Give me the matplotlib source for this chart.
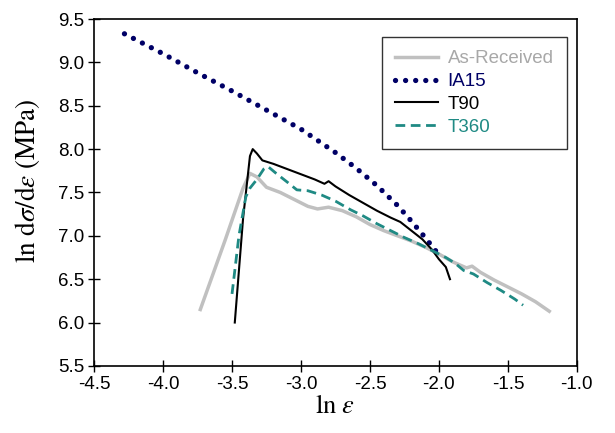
import matplotlib
matplotlib.use("Agg")
import matplotlib.pyplot as plt

plt.rcParams['font.family'] = ['Liberation Sans', 'DejaVu Sans']
plt.rcParams['mathtext.fontset'] = 'stix'

# data
ar_x = [-3.73, -3.55, -3.42, -3.37, -3.32, -3.25, -3.15, -3.05, -2.95, -2.88, -2.80, -2.70, -2.60, -2.50,
        -2.40, -2.30, -2.20, -2.10, -2.00, -1.90, -1.80, -1.76, -1.70, -1.60, -1.50, -1.40, -1.30, -1.20]
ar_y = [6.15, 6.95, 7.55, 7.72, 7.68, 7.56, 7.50, 7.42, 7.34, 7.31, 7.33, 7.29, 7.22, 7.13,
        7.06, 7.00, 6.94, 6.87, 6.79, 6.70, 6.63, 6.65, 6.58, 6.49, 6.41, 6.33, 6.24, 6.13]

ia_x = [-4.28, -4.0, -3.75, -3.5, -3.25, -3.0, -2.75, -2.6, -2.45, -2.3, -2.2, -2.1, -2.02]
ia_y = [9.33, 9.10, 8.88, 8.67, 8.45, 8.23, 7.96, 7.78, 7.58, 7.35, 7.17, 6.98, 6.82]

t90_x = [-3.48, -3.42, -3.37, -3.35, -3.32, -3.28, -3.20, -3.10, -3.00, -2.90, -2.83, -2.80,
         -2.75, -2.65, -2.55, -2.45, -2.35, -2.28, -2.20, -2.12, -2.05, -2.00, -1.95, -1.92]
t90_y = [6.00, 7.20, 7.92, 8.00, 7.95, 7.87, 7.83, 7.77, 7.71, 7.65, 7.60, 7.63,
         7.57, 7.47, 7.38, 7.29, 7.21, 7.16, 7.06, 6.96, 6.84, 6.73, 6.64, 6.50]

t360_x = [-3.50, -3.45, -3.40, -3.37, -3.32, -3.27, -3.24, -3.18, -3.10, -3.03, -2.95, -2.85, -2.75, -2.64,
          -2.55, -2.45, -2.35, -2.25, -2.15, -2.05, -1.95, -1.88, -1.82, -1.75, -1.65, -1.55, -1.45, -1.39]
t360_y = [6.33, 7.00, 7.45, 7.55, 7.65, 7.77, 7.80, 7.72, 7.62, 7.53, 7.52, 7.47, 7.40, 7.30,
          7.23, 7.14, 7.06, 6.98, 6.91, 6.83, 6.75, 6.68, 6.60, 6.56, 6.46, 6.37, 6.27, 6.20]

xticks = [-4.5, -4.0, -3.5, -3.0, -2.5, -2.0, -1.5, -1.0]
yticks = [5.5, 6.0, 6.5, 7.0, 7.5, 8.0, 8.5, 9.0, 9.5]

c_gray = '#c0c0c0'
c_navy = '#000066'
c_teal = '#1f8a84'

fig = plt.figure(figsize=(6.15, 4.33), dpi=100)
ax = fig.add_axes([0.153, 0.155, 0.785, 0.801])

ax.plot(ar_x, ar_y, color=c_gray, lw=2.5, label='As-Received')
ax.plot(ia_x, ia_y, color=c_navy, lw=3.8, linestyle=(0, (0.01, 1.9)),
        dash_capstyle='round', label='IA15')
ax.plot(t90_x, t90_y, color='black', lw=1.5, label='T90')
ax.plot(t360_x, t360_y, color=c_teal, lw=2, linestyle=(0, (3.5, 2)), label='T360')

ax.set_xlim(-4.5, -1.0)
ax.set_ylim(5.5, 9.5)
ax.set_xticks(xticks)
ax.set_yticks(yticks)
ax.set_xticklabels(['%.1f' % v for v in xticks])
ax.set_yticklabels(['%.1f' % v for v in yticks])
ax.tick_params(direction='inout', length=8, width=1, labelsize=13.5, colors='black', pad=3)
for s in ax.spines.values():
    s.set_linewidth(1.2)

ax.set_xlabel(r'$\mathrm{ln}\ \varepsilon$', fontsize=19, labelpad=1)
ax.set_ylabel(r'$\mathrm{ln\ d}\sigma/\mathrm{d}\varepsilon\ \mathrm{(MPa)}$', fontsize=19.5)
ax.yaxis.set_label_coords(-0.108, 0.535)

leg = ax.legend(loc='upper right', bbox_to_anchor=(0.979, 0.948), borderaxespad=0,
                fontsize=13.5, frameon=True, fancybox=False, edgecolor='black',
                handlelength=2.3, handletextpad=0.5, labelspacing=0.3, borderpad=0.7)
leg.get_frame().set_linewidth(1.0)
for txt, col in zip(leg.get_texts(), ['#a8a8a8', c_navy, 'black', c_teal]):
    txt.set_color(col)

fig.savefig('out.png', dpi=100)
